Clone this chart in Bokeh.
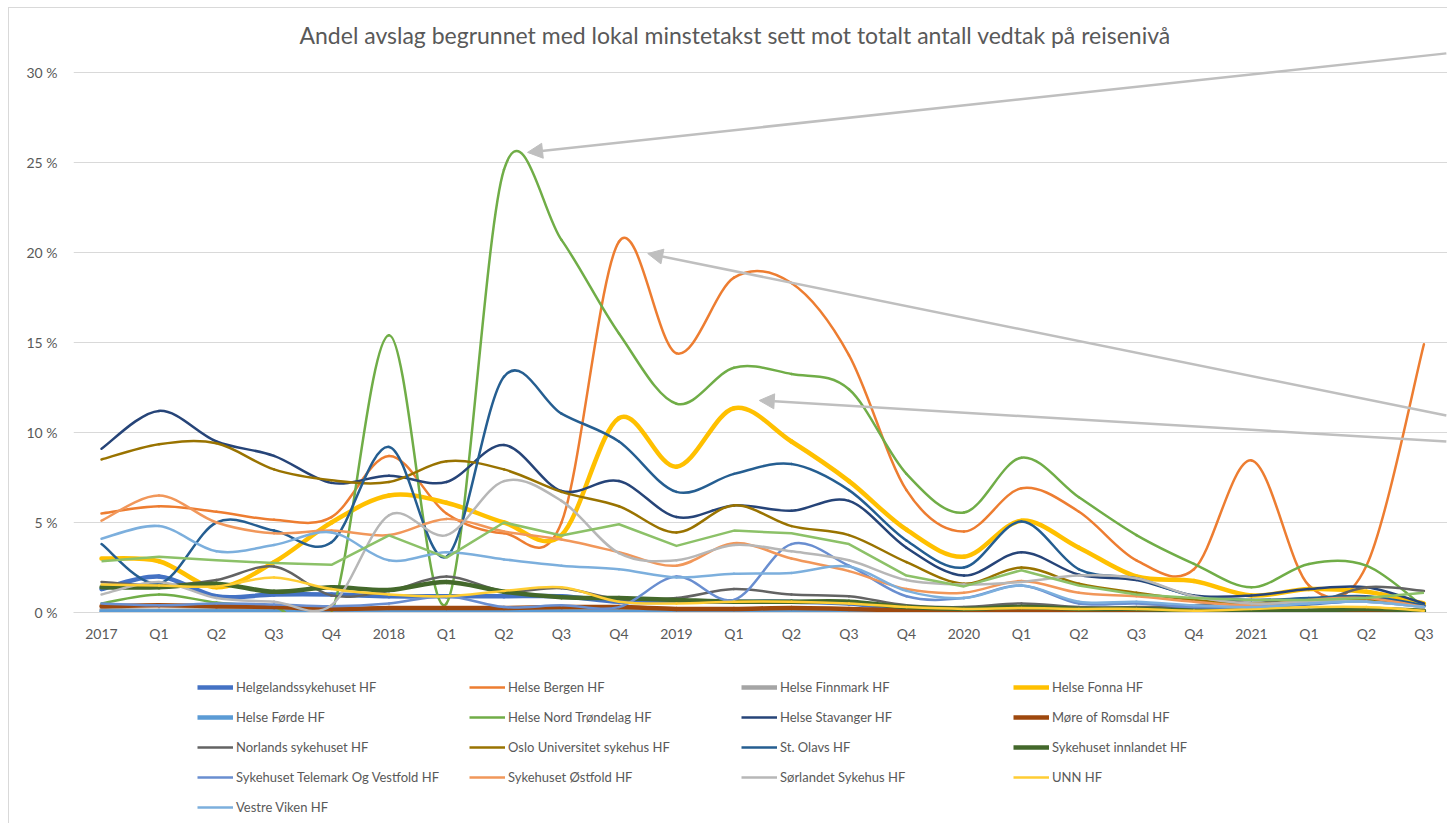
from bokeh.plotting import figure
from bokeh.layouts import column
from bokeh.models import (Range1d, FixedTicker, Legend, LegendItem, Arrow,
                          NormalHead, ColumnDataSource, InlineStyleSheet)
from bokeh.embed import file_html
from bokeh.resources import INLINE

categories = ["2017", "Q1", "Q2", "Q3", "Q4", "2018", "Q1", "Q2", "Q3", "Q4",
              "2019", "Q1", "Q2", "Q3", "Q4", "2020", "Q1", "Q2", "Q3", "Q4",
              "2021", "Q1", "Q2", "Q3"]

helgelandssykehuset = [1.3, 2.0, 0.9, 1.0, 1.0, 0.9, 0.9, 0.9, 0.9, 0.6, 0.6, 0.6,
                       0.6, 0.5, 0.2, 0.2, 0.3, 0.2, 0.2, 0.2, 0.3, 0.5, 0.7, 0.4]
helse_bergen = [5.5, 5.9, 5.6, 5.15, 5.3, 8.7, 5.5, 4.4, 5.0, 20.6, 14.4, 18.6,
                18.3, 14.3, 6.8, 4.5, 6.9, 5.6, 2.9, 2.4, 8.45, 1.5, 2.6, 14.9]
helse_finnmark = [0.15, 0.1, 0.12, 0.1, 0.08, 0.1, 0.12, 0.1, 0.1, 0.08, 0.1, 0.1,
                  0.12, 0.1, 0.06, 0.05, 0.08, 0.06, 0.05, 0.05, 0.06, 0.08, 0.1, 0.05]
helse_fonna = [3.0, 2.85, 1.4, 2.8, 5.0, 6.5, 6.1, 5.0, 4.3, 10.8, 8.1, 11.35,
               9.5, 7.3, 4.6, 3.1, 5.1, 3.6, 2.0, 1.75, 0.95, 1.3, 1.15, 0.5]
helse_forde = [0.05, 0.05, 0.05, 0.05, 0.04, 0.05, 0.05, 0.05, 0.05, 0.04, 0.04, 0.05,
               0.05, 0.04, 0.03, 0.03, 0.03, 0.03, 0.03, 0.02, 0.02, 0.03, 0.03, 0.02]
helse_nord_trondelag = [0.5, 1.0, 0.55, 0.3, 0.0, 15.4, 0.5, 24.6, 20.7, 15.5, 11.6, 13.6,
                        13.25, 12.4, 7.7, 5.55, 8.6, 6.4, 4.3, 2.7, 1.4, 2.7, 2.6, 0.3]
helse_stavanger = [9.1, 11.2, 9.5, 8.7, 7.2, 7.6, 7.25, 9.3, 6.75, 7.3, 5.3, 5.95,
                   5.65, 6.2, 3.6, 2.05, 3.35, 2.1, 1.8, 0.95, 0.95, 1.3, 1.4, 0.5]
more_romsdal = [0.35, 0.4, 0.35, 0.3, 0.2, 0.25, 0.25, 0.25, 0.3, 0.3, 0.2, 0.2,
                0.25, 0.2, 0.1, 0.05, 0.05, 0.05, 0.05, 0.04, 0.04, 0.05, 0.05, 0.03]
norlands = [1.7, 1.5, 1.8, 2.55, 0.95, 1.2, 2.0, 1.2, 1.35, 0.75, 0.8, 1.3,
            1.0, 0.9, 0.4, 0.3, 0.5, 0.3, 0.3, 0.4, 0.7, 0.5, 1.4, 1.2]
oslo_universitet = [8.5, 9.35, 9.4, 7.95, 7.35, 7.25, 8.4, 7.95, 6.7, 5.9, 4.45, 5.95,
                    4.8, 4.3, 2.8, 1.6, 2.5, 1.6, 1.1, 0.7, 0.5, 0.6, 0.7, 0.3]
st_olavs = [3.8, 1.6, 5.0, 4.55, 3.9, 9.2, 3.1, 13.1, 11.05, 9.5, 6.7, 7.7,
            8.25, 6.8, 4.0, 2.5, 5.05, 2.4, 1.9, 0.9, 0.7, 0.8, 0.9, 0.4]
innlandet = [1.4, 1.4, 1.6, 1.15, 1.4, 1.25, 1.7, 1.15, 0.85, 0.8, 0.7, 0.6,
             0.6, 0.6, 0.3, 0.2, 0.3, 0.2, 0.2, 0.1, 0.1, 0.1, 0.2, 0.1]
telemark_vestfold = [0.5, 0.4, 0.5, 0.45, 0.35, 0.5, 0.9, 0.3, 0.4, 0.3, 2.0, 0.7,
                     3.8, 2.6, 0.9, 0.8, 1.5, 0.5, 0.5, 0.3, 0.3, 0.5, 0.6, 0.3]
ostfold = [5.1, 6.5, 5.0, 4.4, 4.55, 4.3, 5.2, 4.5, 4.05, 3.35, 2.6, 3.85,
           3.0, 2.3, 1.3, 1.1, 1.75, 1.1, 0.9, 0.6, 0.4, 0.7, 0.8, 0.3]
sorlandet = [1.0, 1.7, 0.8, 0.6, 0.4, 5.4, 4.3, 7.3, 6.2, 3.3, 2.9, 3.75,
             3.4, 2.9, 1.8, 1.55, 1.7, 2.05, 1.9, 0.9, 0.5, 0.6, 0.6, 0.3]
unn = [1.55, 1.5, 1.45, 1.95, 1.3, 1.0, 0.9, 1.2, 1.4, 0.6, 0.5, 0.6,
       0.6, 0.5, 0.3, 0.2, 0.25, 0.2, 0.2, 0.1, 0.2, 0.3, 0.3, 0.1]
vestre_viken = [4.1, 4.8, 3.4, 3.75, 4.45, 2.9, 3.35, 2.95, 2.6, 2.4, 1.95, 2.15,
                2.2, 2.55, 1.2, 0.8, 1.5, 0.6, 0.6, 0.4, 0.3, 0.5, 0.6, 0.3]
totalt = [2.85, 3.1, 2.9, 2.75, 2.65, 4.28, 3.05, 5.0, 4.28, 4.9, 3.7, 4.55,
          4.4, 3.8, 2.05, 1.45, 2.35, 1.5, 1.0, 0.8, 0.7, 0.7, 0.8, 1.1]

series_names = ["Helgelandssykehuset HF", "Helse Bergen HF", "Helse Finnmark HF",
                "Helse Fonna HF", "Helse Førde HF", "Helse Nord Trøndelag HF",
                "Helse Stavanger HF", "Møre of Romsdal HF", "Norlands sykehuset HF",
                "Oslo Universitet sykehus HF", "St. Olavs HF", "Sykehuset innlandet HF",
                "Sykehuset Telemark Og Vestfold HF", "Sykehuset Østfold HF",
                "Sørlandet Sykehus HF", "UNN HF", "Vestre Viken HF"]
series_values = [helgelandssykehuset, helse_bergen, helse_finnmark, helse_fonna,
                 helse_forde, helse_nord_trondelag, helse_stavanger, more_romsdal,
                 norlands, oslo_universitet, st_olavs, innlandet, telemark_vestfold,
                 ostfold, sorlandet, unn, vestre_viken]
series_colors = ["#4472C4", "#ED7D31", "#A5A5A5", "#FFC000", "#5B9BD5", "#70AD47",
                 "#264478", "#9E480E", "#636363", "#997300", "#255E91", "#43682B",
                 "#698ED0", "#F1975A", "#B7B7B7", "#FFCD33", "#7CAFDD"]
series_widths = [4.5, 2.5, 4.5, 4.5, 4.5, 2.5, 2.5, 4.5, 2.5, 2.5, 2.5, 4.5,
                 2.5, 2.5, 2.5, 2.5, 2.5]

# annotation arrows (tail x, tail y, head x, head y) in axis units
arrow_tail_x = [23.39, 23.39, 23.39]
arrow_tail_y = [31.06, 10.94, 9.5]
arrow_head_x = [7.41, 9.50, 11.44]
arrow_head_y = [25.56, 19.94, 11.78]

title_text = "Andel avslag begrunnet med lokal minstetakst sett mot totalt antall vedtak på reisenivå"
FONT = "Lato"
TXT = "#595959"


def smooth_source(ys):
    n = len(ys)
    xs = list(range(n))
    d = dict(x0=[], y0=[], x1=[], y1=[], cx0=[], cy0=[], cx1=[], cy1=[])
    for i in range(n - 1):
        a = max(i - 1, 0)
        b = min(i + 2, n - 1)
        d["x0"].append(xs[i]); d["y0"].append(ys[i])
        d["x1"].append(xs[i + 1]); d["y1"].append(ys[i + 1])
        d["cx0"].append(xs[i] + (xs[i + 1] - xs[a]) / 6.0)
        d["cy0"].append(ys[i] + (ys[i + 1] - ys[a]) / 6.0)
        d["cx1"].append(xs[i + 1] - (xs[b] - xs[i]) / 6.0)
        d["cy1"].append(ys[i + 1] - (ys[b] - ys[i]) / 6.0)
    return ColumnDataSource(d)


MAIN_H = 657
p = figure(width=1447, height=MAIN_H, x_range=Range1d(-0.487, 23.41),
           y_range=Range1d(0, 31.22), output_backend="svg", toolbar_location=None,
           min_border_left=73, min_border_right=0, min_border_top=50,
           min_border_bottom=MAIN_H - 612)
p.outline_line_color = None
p.background_fill_color = "white"
p.border_fill_color = "white"

p.title.text = title_text
p.title.text_font = FONT
p.title.text_font_size = "23px"
p.title.text_font_style = "normal"
p.title.text_color = TXT
p.title.align = "left"
p.title.offset = 226
p.title.standoff = 3

p.xgrid.visible = False
p.ygrid.grid_line_color = "#D9D9D9"
p.ygrid.grid_line_width = 1

p.yaxis.ticker = FixedTicker(ticks=[0, 5, 10, 15, 20, 25, 30])
p.yaxis.major_label_overrides = {t: f"{t} %" for t in [0, 5, 10, 15, 20, 25, 30]}
p.yaxis.axis_line_color = None
p.yaxis.major_tick_line_color = None
p.yaxis.minor_tick_line_color = None
p.yaxis.major_label_standoff = 10

p.xaxis.ticker = FixedTicker(ticks=list(range(len(categories))))
p.xaxis.major_label_overrides = {i: c for i, c in enumerate(categories)}
p.xaxis.axis_line_color = "#D9D9D9"
p.xaxis.major_tick_line_color = None
p.xaxis.minor_tick_line_color = None
p.xaxis.major_label_standoff = 6

for ax in (p.xaxis[0], p.yaxis[0]):
    ax.major_label_text_font = FONT
    ax.major_label_text_font_size = "14px"
    ax.major_label_text_color = TXT

for name, vals, col, w in zip(series_names, series_values, series_colors, series_widths):
    p.bezier(x0="x0", y0="y0", x1="x1", y1="y1", cx0="cx0", cy0="cy0",
             cx1="cx1", cy1="cy1", source=smooth_source(vals),
             line_color=col, line_width=w, line_cap="round")

# unsmoothed aggregate line (not in legend)
p.line(list(range(len(categories))), totalt, line_color="#8CC168", line_width=2.5,
       line_join="round")

for tx, ty, hx, hy in zip(arrow_tail_x, arrow_tail_y, arrow_head_x, arrow_head_y):
    p.add_layout(Arrow(end=NormalHead(size=15, fill_color="#BFBFBF", line_color="#BFBFBF"),
                       x_start=tx, y_start=ty, x_end=hx, y_end=hy,
                       line_color="#BFBFBF", line_width=2.5))

# legend panel below the chart (its swatch lines lie outside its visible range)
LEG_H = 823 - MAIN_H
lf = figure(width=1447, height=LEG_H, x_range=Range1d(0, 1), y_range=Range1d(0, 1),
            output_backend="svg", toolbar_location=None, min_border=0,
            x_axis_type=None, y_axis_type=None)
lf.outline_line_color = None
lf.grid.visible = False
items = []
for name, col, w in zip(series_names, series_colors, series_widths):
    r = lf.line(x=[5, 6], y=[5, 5], line_color=col, line_width=w)
    items.append(LegendItem(label=name, renderers=[r]))

legend = Legend(items=items, location=(124, LEG_H - 20 - 140), orientation="horizontal",
                ncols=4, glyph_width=36, glyph_height=20, label_height=20,
                label_width=223, label_standoff=3, spacing=10, padding=0, margin=0,
                label_text_font=FONT, label_text_font_size="13px",
                label_text_color=TXT, border_line_alpha=0, background_fill_alpha=0)
lf.add_layout(legend)

frame_css = InlineStyleSheet(css="""
:host::after {
  content: "";
  position: absolute;
  left: 8px; top: 7px; right: -10px; bottom: -10px;
  border: 1px solid #D9D9D9;
  pointer-events: none;
}
""")

page = column(p, lf, spacing=0, stylesheets=[frame_css])
open("out.html", "w").write(file_html(page, INLINE))
